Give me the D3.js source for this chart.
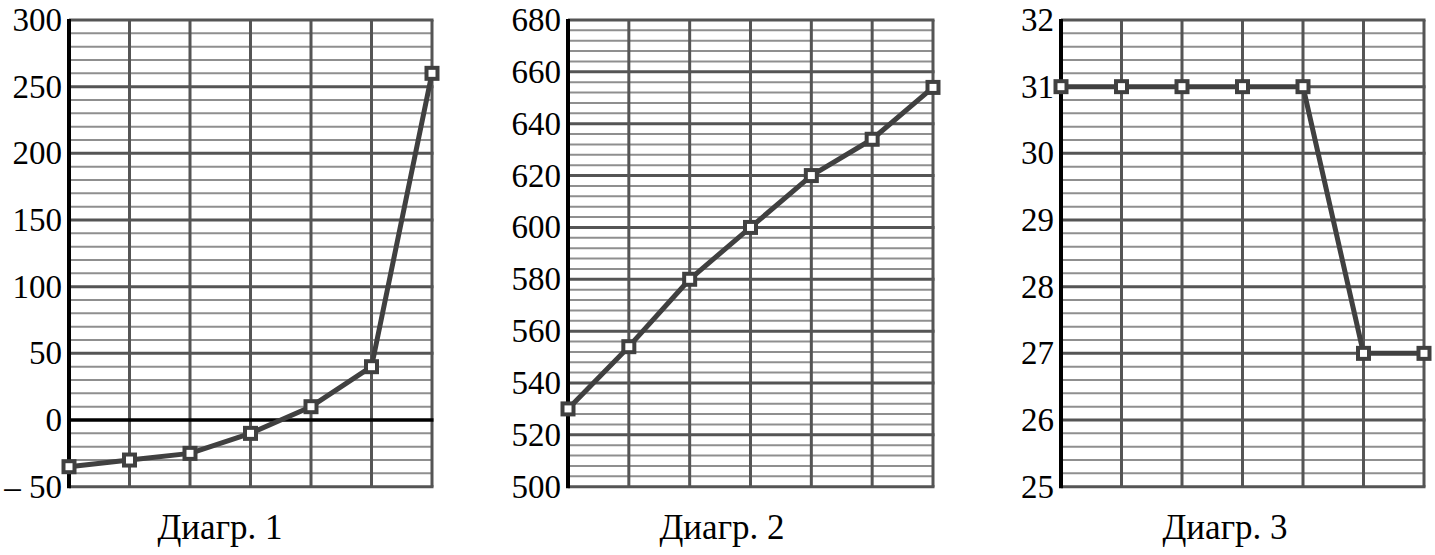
<!DOCTYPE html>
<html><head><meta charset="utf-8">
<script src="https://cdn.jsdelivr.net/npm/d3@7"></script>
<style>body{margin:0;background:#fff}svg{display:block}text{font-family:"Times New Roman","Liberation Serif",Tinos,"DejaVu Serif",serif;fill:#000}</style>
</head><body><svg id="c" width="1435" height="555"></svg>
<script>
const xIdx = [0,1,2,3,4,5,6];
const values1 = [-35,-30,-25,-10,10,40,260];
const values2 = [530,554,580,600,620,634,654];
const values3 = [31,31,31,31,31,27,27];
const ticks1 = [-50,0,50,100,150,200,250,300];
const ticks2 = [500,520,540,560,580,600,620,640,660,680];
const ticks3 = [25,26,27,28,29,30,31,32];
const titles = ["Диагр. 1","Диагр. 2","Диагр. 3"];

const charts = [
  {vals:values1, ticks:ticks1, dom:[-50,300], minor:10, left:69, width:363, titleX:220, title:titles[0], zero:true},
  {vals:values2, ticks:ticks2, dom:[500,680], minor:4, left:568, width:365, titleX:722, title:titles[1], zero:false},
  {vals:values3, ticks:ticks3, dom:[25,32], minor:0.2, left:1061, width:363, titleX:1225, title:titles[2], zero:false}
];
const plotTop = 20, plotBottom = 486.7;
const svg = d3.select("#c");

charts.forEach(c => {
  const g = svg.append("g");
  const x = d3.scaleLinear().domain([0,6]).range([c.left, c.left + c.width]);
  const y = d3.scaleLinear().domain(c.dom).range([plotBottom, plotTop]);
  const n = Math.round((c.dom[1]-c.dom[0])/c.minor);
  const minorVals = d3.range(n+1).map(i => c.dom[0] + i*c.minor);
  const isMajor = v => c.ticks.some(t => Math.abs(t - v) < 1e-6);
  g.selectAll(".mn").data(minorVals.filter(v => !isMajor(v))).join("line")
    .attr("x1", c.left).attr("x2", c.left + c.width)
    .attr("y1", d => y(d)).attr("y2", d => y(d))
    .attr("stroke", "#8f8f8f").attr("stroke-width", 2);
  g.selectAll(".v").data(xIdx).join("line")
    .attr("x1", d => x(d)).attr("x2", d => x(d))
    .attr("y1", plotTop).attr("y2", plotBottom)
    .attr("stroke", "#555").attr("stroke-width", 3);
  g.selectAll(".mj").data(c.ticks).join("line")
    .attr("x1", c.left).attr("x2", c.left + c.width + 1.5)
    .attr("y1", d => y(d)).attr("y2", d => y(d))
    .attr("stroke", d => (c.zero && d === 0) ? "#000" : "#555")
    .attr("stroke-width", d => (c.zero && d === 0) ? 3.5 : 3);
  g.append("line").attr("x1", c.left).attr("x2", c.left)
    .attr("y1", plotTop - 1).attr("y2", plotBottom + 1.5)
    .attr("stroke", "#000").attr("stroke-width", 4);
  g.selectAll(".tl").data(c.ticks).join("text")
    .attr("x", c.left - 7).attr("y", d => y(d))
    .attr("text-anchor", "end").attr("dominant-baseline", "central")
    .attr("font-size", 33)
    .text(d => d < 0 ? "\u2013 " + Math.abs(d) : String(d));
  const line = d3.line().x((d,i) => x(xIdx[i])).y(d => y(d));
  g.append("path").datum(c.vals).attr("d", line)
    .attr("fill", "none").attr("stroke", "#404040").attr("stroke-width", 5)
    .attr("stroke-linejoin", "round");
  g.selectAll(".pt").data(c.vals).join("rect")
    .attr("x", (d,i) => x(xIdx[i]) - 5.5).attr("y", d => y(d) - 5.5)
    .attr("width", 11).attr("height", 11)
    .attr("fill", "#fff").attr("stroke", "#404040").attr("stroke-width", 4);
  g.append("text").attr("x", c.titleX).attr("y", 539)
    .attr("text-anchor", "middle").attr("font-size", 35).text(c.title);
});
</script></body></html>
